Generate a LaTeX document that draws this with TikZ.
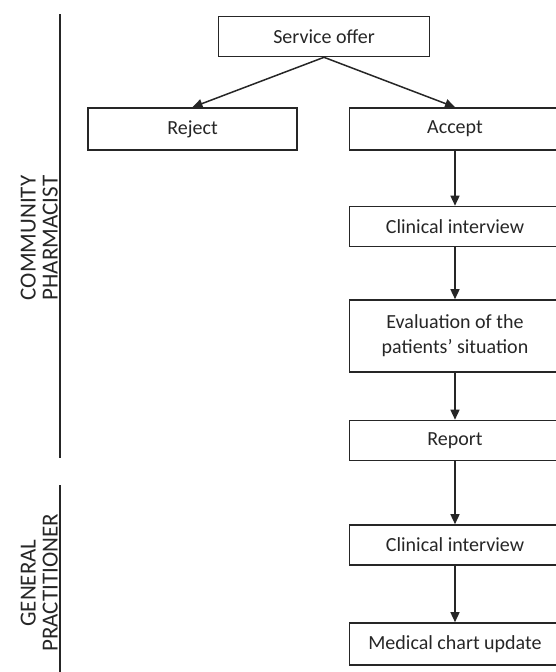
\documentclass[tikz,border=0pt]{standalone}
\usepackage{fontspec}
\setmainfont{Carlito}
\usetikzlibrary{arrows.meta}

\begin{document}
\begin{tikzpicture}[x=1pt,y=-1pt,
    stepbox/.style={draw=black!85,line width=1.6pt,minimum width=211pt,minimum height=40pt,
        inner sep=2pt,align=center,font=\fontsize{20}{25}\selectfont,text=black!85},
    flow/.style={line width=1.5pt,draw=black!85,-{Triangle[length=10pt,width=9pt]}},
    rolelabel/.style={rotate=90,anchor=south,align=center,inner sep=1pt,
        font=\fontsize{23}{22}\selectfont,text=black!85}]
    \clip (0,0) rectangle (556,672);
    % role lines and labels
    \coordinate (pharmtop) at (60,14);
    \coordinate (pharmbot) at (60,458);
    \coordinate (gptop) at (60,485);
    \coordinate (gpbot) at (60,672);
    \draw[line width=2pt,black!85] (pharmtop) -- (pharmbot);
    \draw[line width=2pt,black!85] (gptop) -- (gpbot);
    \node[rolelabel] (pharm) at (59,238) {COMMUNITY\\PHARMACIST};
    \node[rolelabel] (gp) at (59,583) {GENERAL\\PRACTITIONER};
    % boxes
    \node[stepbox] (offer) at (324,36.5) {Service offer};
    \node[stepbox,minimum height=42pt,minimum width=209pt] (reject) at (192.5,129) {Reject};
    \node[stepbox,minimum height=42pt] (accept) at (455,129) {Accept};
    \node[stepbox] (interview) at (455,226.5) {Clinical interview};
    \node[stepbox,minimum height=72pt] (evaluation) at (455,336) {Evaluation of the\\patients’ situation};
    \node[stepbox] (report) at (455,440.5) {Report};
    \node[stepbox] (gpinterview) at (455,545) {Clinical interview};
    \node[stepbox,minimum height=42pt] (chart) at (455,644) {Medical chart update};
    % arrows
    \draw[flow] (offer.south) -- (reject.north);
    \draw[flow] (offer.south) -- (accept.north);
    \draw[flow] (accept) -- (interview);
    \draw[flow] (interview) -- (evaluation);
    \draw[flow] (evaluation) -- (report);
    \draw[flow] (report) -- (gpinterview);
    \draw[flow] (gpinterview) -- (chart);
\end{tikzpicture}
\end{document}
